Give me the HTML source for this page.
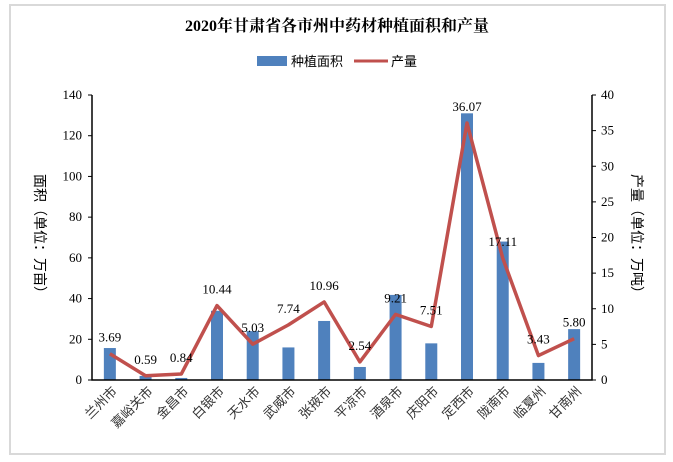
<!DOCTYPE html>
<html><head><meta charset="utf-8"><style>
body{margin:0;background:#fff;}
svg{display:block;font-family:"Liberation Serif","Noto Serif CJK SC",serif;}
</style></head><body>
<svg id="c" width="673" height="462">
<rect x="10" y="5" width="655" height="449" fill="#fff" stroke="#d9d9d9" stroke-width="2"/>
<text x="337" y="31" text-anchor="middle" font-size="16" font-weight="bold">2020年甘肃省各市州中药材种植面积和产量</text>
<g>
<rect x="257" y="56" width="30" height="10" fill="#4f81bd"/>
<text x="291" y="66" font-size="13" font-family="Noto Sans CJK SC, sans-serif">种植面积</text>
<line x1="354" y1="61" x2="388" y2="61" stroke="#c0504d" stroke-width="3"/>
<text x="391" y="66" font-size="13" font-family="Noto Sans CJK SC, sans-serif">产量</text>
</g>
<text transform="translate(35,237) rotate(90)" text-anchor="middle" font-size="14" font-family="Noto Sans CJK SC, sans-serif">面积（单位：万亩）</text>
<text transform="translate(632,237) rotate(90)" text-anchor="middle" font-size="14" font-family="Noto Sans CJK SC, sans-serif">产量（单位：万吨）</text>
<g id="plot"></g>
</svg>
<script>
const categories=["兰州市","嘉峪关市","金昌市","白银市","天水市","武威市","张掖市","平凉市","酒泉市","庆阳市","定西市","陇南市","临夏州","甘南州"];
const areaValues=[15.7,2,1,34,24,16,29,6.4,41.8,18,131,68,8.4,25];
const outputValues=[3.69,0.59,0.84,10.44,5.03,7.74,10.96,2.54,9.21,7.51,36.07,17.11,3.43,5.80];
const leftTicks=[0,20,40,60,80,100,120,140];
const rightTicks=[0,5,10,15,20,25,30,35,40];
const NS="http://www.w3.org/2000/svg";
const L=92,R=592,T=95,B=380;
const bw=(R-L)/categories.length;
const xC=i=>L+bw*(i+0.5);
const yL=v=>B-(v/140)*(B-T);
const yR=v=>B-(v/40)*(B-T);
const g=document.getElementById('plot');
function mk(t,a){const e=document.createElementNS(NS,t);for(const k in a)e.setAttribute(k,a[k]);g.appendChild(e);return e;}
categories.forEach((c,i)=>{
  const r=mk('rect',{x:xC(i)-6,y:yL(areaValues[i]),width:12,height:B-yL(areaValues[i]),fill:'#4f81bd'});
  
  
  const t=mk('text',{transform:`translate(${xC(i)+8},${B+12}) rotate(-45)`,'text-anchor':'end','font-size':13,'font-family':'Noto Sans CJK SC, sans-serif',fill:'#333'});
  t.textContent=c;
  
  
});
const pts=outputValues.map((v,i)=>xC(i)+','+yR(v)).join(' ');
const pl=mk('polyline',{points:pts,fill:'none',stroke:'#c0504d','stroke-width':3.5,'stroke-linejoin':'round'});


outputValues.forEach((v,i)=>{
  const t=mk('text',{x:xC(i),y:yR(v)-12,'text-anchor':'middle','font-size':13});
  t.textContent=v.toFixed(2);
  
  
});
const ax=mk('path',{d:`M${L},${T}V${B}H${R}V${T}`,fill:'none',stroke:'#000','stroke-width':1.5});


leftTicks.forEach(v=>{
  const l=mk('line',{x1:L-4,x2:L,y1:yL(v),y2:yL(v),stroke:'#000'});
  
  
  const t=mk('text',{x:L-10,y:yL(v)+4,'text-anchor':'end','font-size':13});
  t.textContent=v;
  
  
});
rightTicks.forEach(v=>{
  const l=mk('line',{x1:R,x2:R+4,y1:yR(v),y2:yR(v),stroke:'#000'});
  
  
  const t=mk('text',{x:R+9,y:yR(v)+4,'font-size':13});
  t.textContent=v;
  
  
});
</script>
</body></html>
